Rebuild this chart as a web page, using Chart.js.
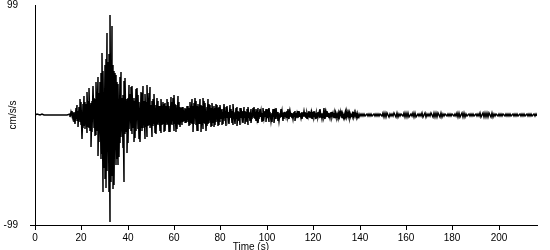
<!DOCTYPE html>
<html>
<head>
<meta charset="utf-8">
<script src="https://cdn.jsdelivr.net/npm/chart.js@4/dist/chart.umd.min.js"></script>
<style>
  body { margin: 0; background: #fff; }
</style>
</head>
<body>
<canvas id="quakeChart" width="550" height="250"></canvas>
<script>
// acceleration record, cm/s/s
const preEventAccel = [0, 0.5, -0.4, 0.6, -0.3, 0, 0, 0, 0, 0, 0, 0, 0.4, 0, 0];

// 15 s - 48 s, every 0.25 s
const strongAccel = [
    1, -2, 3, -1,
    4, -3, 2, -6,
    3, -8, 6, -4,
    9, -5, 4, -11,
    7, -6, 14, -9,
    12, -22, 10, -12,
    17, -10, 12, -13,
    10, -16, 21, -11,
    13, -12, 24, -14,
    11, -29, 13, -15,
    26, -12, 15, -19,
    14, -18, 30, -14,
    34, -37, 20, -24,
    30, -40, 38, -35,
    56, -69, 40, -48,
    45, -58, 50, -66,
    74, -50, 48, -69,
    55, -96, 90, -60,
    80, -55, 45, -67,
    40, -63, 38, -45,
    36, -40, 30, -45,
    28, -38, 34, -25,
    39, -20, 15, -30,
    18, -60, 31, -17,
    33, -15, 14, -34,
    15, -25, 27, -13,
    19, -14, 25, -17,
    26, -12, 15, -24,
    13, -21, 23, -14,
    24, -13, 18, -22,
    12, -24, 21, -12,
    20, -14, 26, -12,
    13, -22, 19, -11
];

// 48 s - 80 s, every 0.25 s
const codaAccel = [
    12, -20, 27, -10,
    20, -9, 25, -12,
    9, -20, 13, -10,
    14, -8, 19, -16,
    9, -17, 15, -8,
    13, -9, 8, -14,
    8, -16, 14, -9,
    12, -8, 10, -15,
    11, -14, 8, -9,
    14, -8, 12, -15,
    8, -15, 16, -8,
    12, -9, 15, -14,
    18, -8, 10, -15,
    9, -13, 17, -8,
    12, -9, 7, -11,
    6, -9, 7, -6,
    7, -5, 6, -7,
    5, -7, 8, -6,
    8, -10, 6, -9,
    12, -7, 14, -8,
    8, -15, 11, -8,
    15, -9, 13, -14,
    8, -14, 10, -8,
    14, -8, 9, -15,
    8, -13, 15, -7,
    13, -8, 11, -14,
    7, -10, 14, -8,
    10, -7, 9, -11,
    6, -10, 11, -7,
    8, -11, 6, -9,
    10, -6, 9, -10,
    6, -9, 7, -6
];

// 80 s - 140 s, every 0.25 s
const lateCodaAccel = [
    9, -4, 5, -9,   3, -8, 10, -5,  4, -10, 7, -3,  8, -4, 3, -8,   9, -3, 5, -7,
    4, -9, 10, -4,  3, -8, 6, -4,   7, -10, 4, -5,  3, -9, 6, -3,   6, -3, 4, -7,
    7, -3, 4, -8,   3, -6, 5, -9,   7, -3, 3, -5,   5, -7, 2, -4,   6, -3, 7, -4,
    3, -5, 5, -3,   6, -7, 3, -4,   5, -2, 4, -6,   2, -5, 6, -3,   4, -2, 5, -6,
    5, -3, 2, -6,   6, -2, 3, -5,   2, -6, 5, -2,   5, -7, 2, -4,   6, -2, 3, -5,
    3, -5, 2, -3,   5, -2, 4, -5,   2, -4, 3, -2,   3, -2, 4, -3,   5, -2, 2, -4,
    4, -2, 2, -3,   2, -4, 3, -2,   4, -5, 2, -3,   2, -3, 4, -2,   4, -2, 2, -3,
    3, -4, 2, -2,   4, -2, 3, -3,   2, -4, 2, -2,   4, -2, 3, -3,   2, -4, 2, -2,
    3, -2, 4, -2,   2, -4, 2, -3,   3, -2, 2, -3,   5, -2, 2, -4,   2, -3, 6, -2,
    2, -4, 3, -2,   4, -2, 2, -3,   2, -3, 3, -2,   3, -2, 2, -3,   2, -3, 2, -2,
    2, -1, 2, -2,   1, -2, 2, -1,   2, -3, 1, -2,   1, -2, 2, -1,   3, -1, 2, -2,
    1, -3, 2, -1,   2, -1, 1, -2,   3, -1, 2, -2,   1, -2, 2, -1,   2, -3, 1, -2
];

// 140 s - 216.5 s, every 0.5 s
const tailAccel = [
    1, -1, 1, -1, 0.5, -1, 1, -0.5, 0.5, -0.5, 1, -1, 0.5, -0.5, 0.5, -1, 0.5, -0.5, 1, -1,
    2, -2, 1.5, -2, 2, -1.5, 0.5, -0.5, 0.5, -0.5, 1.5, -2, 2, -1.5, 0.5, -0.5, 0.5, -0.5, 1.5, -2,
    2, -1.5, 1.5, -2, 0.5, -0.5, 1.5, -2, 2, -1.5, 0.5, -0.5, 0.5, -0.5, 1.5, -1.5, 2, -1.5, 0.5, -0.5,
    0.5, -0.5, 1.5, -2, 2, -1.5, 1.5, -2, 2, -1.5, 1.5, -1.5, 0.5, -0.5, 0.5, -0.5, 0.5, -0.5, 0.5, -0.5,
    0.5, -0.5, 0.5, -0.5, 2, -1.5, 1.5, -2, 2, -1.5, 1.5, -2, 0.5, -0.5, 0.5, -0.5, 0.5, -0.5, 0.5, -0.5,
    0.5, -0.5, 0.5, -0.5, 1.5, -2, 2, -1.5, 1.5, -2, 2, -1.5, 1.5, -2, 2, -1.5, 0.5, -0.5, 0.5, -0.5,
    0.5, -0.5, 0.5, -0.5, 0.5, -0.5, 0.5, -0.5, 0.5, -0.5, 0.5, -0.5, 0.5, -0.5, 0.5, -0.5, 0.5, -0.5, 0.5, -0.5,
    0.5, -0.5, 0.5, -0.5, 0.5, -0.5, 0.5, -0.5, 0.5, -0.5, 0.5, -0.5, 0.5, -0.5
];

// each piece of the record: start time (s), sample step (s), values
const segments = [
    { start: 0, step: 1, values: preEventAccel },
    { start: 15, step: 0.25, values: strongAccel },
    { start: 48, step: 0.25, values: codaAccel },
    { start: 80, step: 0.25, values: lateCodaAccel },
    { start: 140, step: 0.5, values: tailAccel }
];

const timeMax = 216.5;
const xTickValues = [0, 20, 40, 60, 80, 100, 120, 140, 160, 180, 200];
const yTickValues = [-99, 99];

const points = [];
segments.forEach(seg => {
    seg.values.forEach((v, i) => points.push({ x: seg.start + i * seg.step, y: v }));
});

const FONT = '"Liberation Sans", Arial, sans-serif';

// x title sits a bit left of centre in the original
const timeTitle = {
    id: 'timeTitle',
    afterDraw(chart) {
        const ctx = chart.ctx;
        const area = chart.chartArea;
        ctx.save();
        ctx.font = '10px ' + FONT;
        ctx.fillStyle = '#000';
        ctx.textAlign = 'center';
        ctx.textBaseline = 'alphabetic';
        ctx.fillText('Time (s)', area.left + (area.right - area.left) * 0.43, 250);
        ctx.restore();
    }
};

const ctx = document.getElementById('quakeChart').getContext('2d');
new Chart(ctx, {
    type: 'line',
    data: {
        datasets: [{
            data: points,
            borderColor: '#000',
            borderWidth: 1.5,
            pointRadius: 0,
            tension: 0,
            fill: false
        }]
    },
    options: {
        responsive: false,
        animation: false,
        devicePixelRatio: 1,
        parsing: false,
        normalized: true,
        layout: { padding: { top: 5, right: 13, left: 0, bottom: 0 } },
        plugins: {
            legend: { display: false },
            tooltip: { enabled: false }
        },
        scales: {
            x: {
                type: 'linear',
                min: 0,
                max: timeMax,
                alignToPixels: true,
                afterBuildTicks: scale => { scale.ticks = xTickValues.map(v => ({ value: v })); },
                afterFit: scale => { scale.height = 25; scale.paddingLeft = 0; scale.paddingRight = 0; },
                grid: { drawOnChartArea: false, tickLength: 5, color: '#000' },
                border: { color: '#000', width: 1 },
                ticks: {
                    color: '#000',
                    padding: 2,
                    maxRotation: 0,
                    autoSkip: false,
                    font: { family: FONT, size: 10 }
                }
            },
            y: {
                min: -99,
                max: 99,
                alignToPixels: true,
                afterBuildTicks: scale => { scale.ticks = yTickValues.map(v => ({ value: v })); },
                afterFit: scale => { scale.width = 35; scale.paddingTop = 0; scale.paddingBottom = 0; },
                grid: {
                    drawOnChartArea: false,
                    tickLength: 5,
                    color: c => (c.tick && c.tick.value === -99) ? '#000' : 'rgba(0,0,0,0)'
                },
                border: { color: '#000', width: 1 },
                ticks: {
                    color: '#000',
                    padding: 12,
                    autoSkip: false,
                    font: { family: FONT, size: 10 }
                },
                title: {
                    display: true,
                    text: 'cm/s/s',
                    color: '#000',
                    padding: { top: 7, bottom: 0 },
                    font: { family: FONT, size: 10 }
                }
            }
        }
    },
    plugins: [timeTitle]
});
</script>
</body>
</html>
